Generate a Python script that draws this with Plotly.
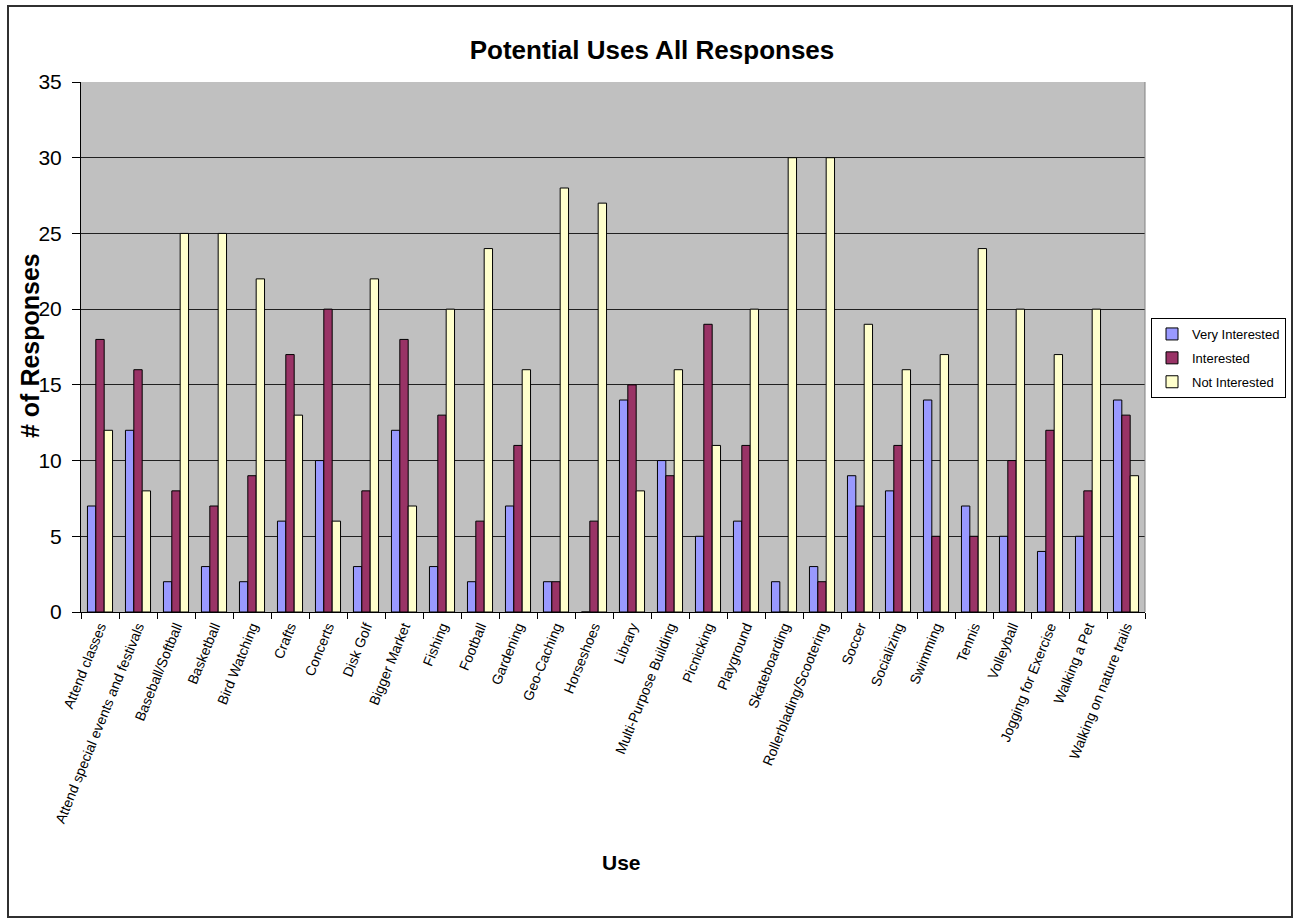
import plotly.graph_objects as go

# Survey results: number of responses per potential use
uses = [
    "Attend classes", "Attend special events and festivals", "Baseball/Softball",
    "Basketball", "Bird Watching", "Crafts", "Concerts", "Disk Golf",
    "Bigger Market", "Fishing", "Football", "Gardening", "Geo-Caching",
    "Horseshoes", "Library", "Multi-Purpose Building", "Picnicking",
    "Playground", "Skateboarding", "Rollerblading/Scootering", "Soccer",
    "Socializing", "Swimming", "Tennis", "Volleyball", "Jogging for Exercise",
    "Walking a Pet", "Walking on nature trails",
]
very_interested = [7, 12, 2, 3, 2, 6, 10, 3, 12, 3, 2, 7, 2, 0, 14, 10, 5, 6, 2, 3, 9, 8, 14, 7, 5, 4, 5, 14]
interested = [18, 16, 8, 7, 9, 17, 20, 8, 18, 13, 6, 11, 2, 6, 15, 9, 19, 11, 0, 2, 7, 11, 5, 5, 10, 12, 8, 13]
not_interested = [12, 8, 25, 25, 22, 13, 6, 22, 7, 20, 24, 16, 28, 27, 8, 16, 11, 20, 30, 30, 19, 16, 17, 24, 20, 17, 20, 9]

series_names = ["Very Interested", "Interested", "Not Interested"]
series_colors = ["#9999FF", "#993366", "#FFFFCC"]
y_ticks = [0, 5, 10, 15, 20, 25, 30, 35]

FONT = "Arial, 'Liberation Sans', sans-serif"

# Page and plot-area geometry in pixels
W, H = 1294, 923
L, R, T, B = 81, 1145, 82, 612


def px_x(x):
    return (x - L) / (R - L)


def px_y(y):
    return (B - y) / (B - T)


fig = go.Figure()
for name, color, values in zip(series_names, series_colors,
                               [very_interested, interested, not_interested]):
    fig.add_trace(go.Bar(
        name=name, x=uses, y=values,
        marker=dict(color=color, line=dict(color="#000000", width=1)),
        legendgroup=name,
    ))

fig.update_layout(
    width=W, height=H,
    margin=dict(l=L, r=W - R, t=T, b=H - B, autoexpand=False),
    paper_bgcolor="#FFFFFF",
    plot_bgcolor="#C0C0C0",
    barmode="group",
    bargap=0.34,
    bargroupgap=0,
    font=dict(family=FONT, color="#000000"),
    title=dict(
        text="<b>Potential Uses All Responses</b>",
        x=px_x(652), xref="paper", xanchor="center",
        y=1 - 50 / H, yanchor="middle",
        font=dict(size=26, family=FONT, color="#000000"),
    ),
    xaxis=dict(
        type="category",
        showline=True, linecolor="#000000", linewidth=1,
        ticks="outside", tickson="boundaries", ticklen=6,
        tickcolor="#000000", tickwidth=1,
        tickangle=-68,
        tickfont=dict(size=14, family=FONT, color="#000000"),
        showgrid=False,
        range=[-0.5, len(uses) - 0.5],
    ),
    yaxis=dict(
        range=[0, 35], tickvals=y_ticks,
        showline=True, linecolor="#000000", linewidth=1,
        ticks="outside", ticklen=8, tickcolor="#000000", tickwidth=1,
        tickfont=dict(size=21, family=FONT, color="#000000"),
        ticklabelstandoff=6,
        showgrid=True, gridcolor="#202020", gridwidth=1,
        zeroline=False,
    ),
    legend=dict(
        x=px_x(1151), y=px_y(318), xanchor="left", yanchor="top",
        bgcolor="#FFFFFF", bordercolor="#000000", borderwidth=1,
        font=dict(size=13, family=FONT, color="#000000"),
        tracegroupgap=4,
        itemwidth=30,
    ),
    annotations=[
        dict(text="<b>Use</b>", xref="paper", yref="paper",
             x=px_x(621), y=px_y(862), xanchor="center", yanchor="middle",
             showarrow=False, font=dict(size=21, family=FONT, color="#000000")),
        dict(text="<b># of Responses</b>", xref="paper", yref="paper",
             x=px_x(30), y=px_y(346), xanchor="center", yanchor="middle",
             textangle=-90, showarrow=False,
             font=dict(size=25, family=FONT, color="#000000")),
    ],
    shapes=[
        # right edge of the plot area
        dict(type="line", xref="paper", yref="paper", x0=1, x1=1, y0=0, y1=1,
             line=dict(color="#808080", width=1)),
        # outer chart frame
        dict(type="rect", xref="paper", yref="paper",
             x0=px_x(8), x1=px_x(1292), y0=px_y(917), y1=px_y(6),
             line=dict(color="#303030", width=2)),
    ],
)

fig.write_html("out.html")
